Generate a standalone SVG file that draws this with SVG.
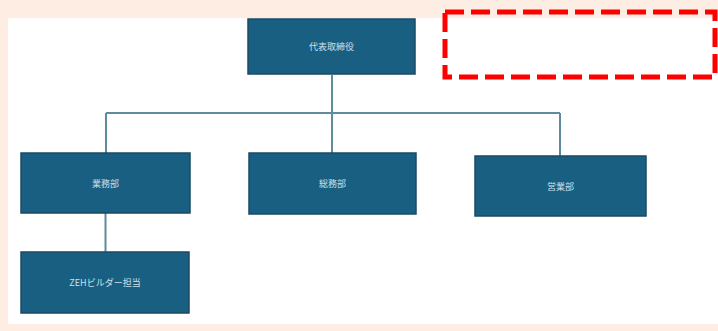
<svg xmlns="http://www.w3.org/2000/svg" width="718" height="331" viewBox="0 0 718 331">
<style>
.box{fill:#195f82;stroke:#1b4a63;stroke-width:1.5}
.lbl{font-family:"Noto Sans CJK JP","Liberation Sans",sans-serif;font-size:9px;fill:#cfe0ea;text-anchor:middle;dominant-baseline:central}
.con{stroke:#5f8c9b;stroke-width:2;fill:none}
</style>
<rect x="0" y="0" width="718" height="331" fill="#fdede2"/>
<rect x="8" y="18" width="710" height="306" fill="#ffffff"/>
<g id="connectors">
<path class="con" d="M332 75 V113 M106 113 H560 M106 113 V153 M332 113 V153 M560 113 V156 M105.5 213 V252"/>
</g>
<g id="n-ceo"><rect class="box" x="248" y="19" width="167" height="55"/><text class="lbl" x="331.5" y="46">代表取締役</text></g>
<g id="n-gyomu"><rect class="box" x="21" y="153" width="169" height="60"/><text class="lbl" x="105.5" y="183">業務部</text></g>
<g id="n-somu"><rect class="box" x="249" y="153" width="167" height="61"/><text class="lbl" x="332.5" y="183">総務部</text></g>
<g id="n-eigyo"><rect class="box" x="475" y="156" width="171" height="60"/><text class="lbl" x="560.5" y="186">営業部</text></g>
<g id="n-zeh"><rect class="box" x="21" y="252" width="168" height="61"/><text class="lbl" x="105" y="282">ZEHビルダー担当</text></g>
<rect x="445" y="12" width="270" height="65" fill="none" stroke="#ff0000" stroke-width="5" stroke-dasharray="19 7"/>
</svg>
